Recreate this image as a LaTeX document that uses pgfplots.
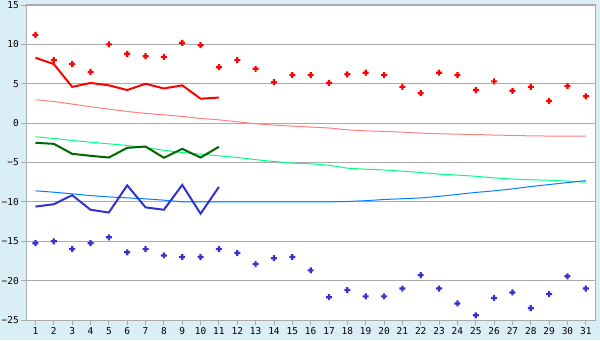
\documentclass[border=0pt]{standalone}
\usepackage{pgfplots}
\pgfplotsset{compat=1.18}
\usepackage{fontspec}
\setmonofont{DejaVu Sans Mono}
\definecolor{bgblue}{HTML}{DAEEF5}
\definecolor{gridgray}{HTML}{AAAAAA}
\definecolor{redc}{HTML}{FF0000}
\definecolor{pinkc}{HTML}{FF8080}
\definecolor{greenc}{HTML}{00FF80}
\definecolor{dgreen}{HTML}{006600}
\definecolor{bluec}{HTML}{3333CC}
\definecolor{lblue}{HTML}{0080FF}
\pgfdeclareplotmark{fatplus}{%
  \pgfpathrectangle{\pgfpoint{-3.0bp}{-1.1bp}}{\pgfpoint{6.0bp}{2.2bp}}%
  \pgfpathrectangle{\pgfpoint{-1.1bp}{-3.0bp}}{\pgfpoint{2.2bp}{6.0bp}}%
  \pgfusepathqfill}
\begin{document}
\begin{tikzpicture}[x=1bp,y=1bp]
\path[use as bounding box, fill=bgblue] (0,0) rectangle (600,340);
\begin{axis}[
  at={(26.3bp,20bp)}, anchor=south west,
  scale only axis, width=568.7bp, height=315bp,
  xmin=0.5, xmax=31.5, ymin=-25, ymax=15,
  axis background/.style={fill=white},
  xtick={1,...,31},
  ytick={-25,-20,-15,-10,-5,0,5,10,15},
  yticklabels={−25,−20,−15,−10,−5,0,5,10,15},
  xtick pos=left, ytick pos=left,
  ymajorgrids,
  grid style={gridgray, line width=0.9bp},
  axis line style={gridgray, line width=1bp},
  tick style={gridgray, line width=0.9bp},
  tick align=outside, major tick length=5bp,
  /pgf/number format/assume math mode=true,
  ticklabel style={font=\ttfamily\fontsize{9.5}{10}\selectfont, text=black},
  xticklabel style={yshift=1bp},
  yticklabel style={xshift=1bp},
]
% trend lines
\addplot[pinkc, line width=1bp] coordinates {
(1,2.97)(2,2.75)(3,2.42)(4,2.08)(5,1.78)(6,1.48)(7,1.23)(8,1.06)(9,0.85)(10,0.59)
(11,0.42)(12,0.17)(13,-0.08)(14,-0.25)(15,-0.38)(16,-0.5)(17,-0.62)(18,-0.85)(19,-0.98)(20,-1.05)
(21,-1.14)(22,-1.27)(23,-1.35)(24,-1.4)(25,-1.45)(26,-1.52)(27,-1.56)(28,-1.62)(29,-1.64)(30,-1.65)(31,-1.65)};
\addplot[greenc, line width=1bp] coordinates {
(1,-1.74)(2,-1.95)(3,-2.2)(4,-2.42)(5,-2.63)(6,-2.84)(7,-3.1)(8,-3.45)(9,-3.73)(10,-3.94)
(11,-4.15)(12,-4.36)(13,-4.64)(14,-4.87)(15,-5.08)(16,-5.17)(17,-5.34)(18,-5.72)(19,-5.85)(20,-5.95)
(21,-6.1)(22,-6.27)(23,-6.48)(24,-6.6)(25,-6.75)(26,-6.95)(27,-7.1)(28,-7.2)(29,-7.25)(30,-7.37)(31,-7.5)};
\addplot[lblue, line width=1bp] coordinates {
(1,-8.6)(2,-8.77)(3,-8.98)(4,-9.2)(5,-9.37)(6,-9.49)(7,-9.62)(8,-9.78)(9,-10)(10,-10)
(11,-10)(12,-10)(13,-10)(14,-10)(15,-10)(16,-10)(17,-10)(18,-9.95)(19,-9.85)(20,-9.7)
(21,-9.6)(22,-9.5)(23,-9.3)(24,-9.05)(25,-8.8)(26,-8.6)(27,-8.35)(28,-8.05)(29,-7.8)(30,-7.55)(31,-7.3)};
% daily lines
\addplot[redc, line width=2bp] coordinates {
(1,8.3)(2,7.5)(3,4.6)(4,5.1)(5,4.8)(6,4.2)(7,5.0)(8,4.4)(9,4.8)(10,3.1)(11,3.25)};
\addplot[dgreen, line width=2bp] coordinates {
(1,-2.5)(2,-2.63)(3,-3.9)(4,-4.15)(5,-4.37)(6,-3.14)(7,-2.97)(8,-4.4)(9,-3.27)(10,-4.37)(11,-3.0)};
\addplot[bluec, line width=2bp] coordinates {
(1,-10.6)(2,-10.3)(3,-9.15)(4,-11.0)(5,-11.35)(6,-7.9)(7,-10.7)(8,-11.0)(9,-7.85)(10,-11.5)(11,-8.1)};
% record markers
\addplot[only marks, mark=fatplus, redc] coordinates {
(1,11.2)(2,8.0)(3,7.5)(4,6.5)(5,10.0)(6,8.8)(7,8.5)(8,8.4)(9,10.2)(10,9.9)
(11,7.1)(12,8.0)(13,6.9)(14,5.2)(15,6.1)(16,6.1)(17,5.1)(18,6.2)(19,6.4)(20,6.1)
(21,4.6)(22,3.8)(23,6.4)(24,6.1)(25,4.2)(26,5.3)(27,4.1)(28,4.6)(29,2.8)(30,4.7)(31,3.4)};
\addplot[only marks, mark=fatplus, bluec] coordinates {
(1,-15.25)(2,-15.0)(3,-16.0)(4,-15.25)(5,-14.5)(6,-16.4)(7,-16.0)(8,-16.8)(9,-17.0)(10,-17.0)
(11,-16.0)(12,-16.5)(13,-17.9)(14,-17.15)(15,-17.0)(16,-18.7)(17,-22.1)(18,-21.2)(19,-22.0)(20,-22.0)
(21,-21.0)(22,-19.3)(23,-21.0)(24,-22.9)(25,-24.4)(26,-22.2)(27,-21.5)(28,-23.5)(29,-21.7)(30,-19.45)(31,-21.0)};
\end{axis}
\end{tikzpicture}
\end{document}
